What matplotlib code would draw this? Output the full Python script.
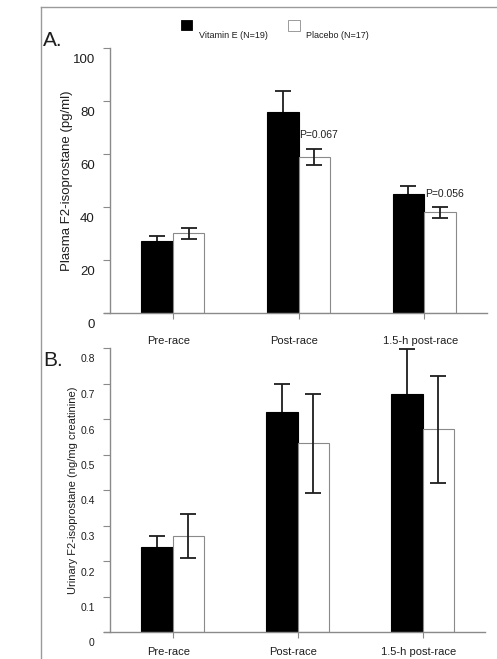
import matplotlib
matplotlib.use('Agg')
import matplotlib.pyplot as plt
import matplotlib.transforms as mtrans
import numpy as np

plt.rcParams['font.family'] = ['Liberation Sans', 'DejaVu Sans']

# data
groups = ['Pre-race', 'Post-race', '1.5-h post-race']
plasma_vite = [27.3, 75.8, 44.9]
plasma_vite_se = [1.9, 8.1, 3.0]
plasma_plac = [30.1, 58.9, 38.0]
plasma_plac_se = [2.0, 3.0, 2.0]
plasma_p = ['P=0.067', 'P=0.056']
plasma_p_y = [67.2, 44.9]

urine_vite = [0.239, 0.621, 0.670]
urine_vite_se = [0.031, 0.079, 0.128]
urine_plac = [0.270, 0.531, 0.571]
urine_plac_se = [0.061, 0.140, 0.150]

W, H = 497, 659
fig = plt.figure(figsize=(W / 100, H / 100), dpi=100)
fig.patch.set_facecolor('white')

def px_axes(left, top, right, bottom):
    return fig.add_axes([left / W, 1 - bottom / H, (right - left) / W, (bottom - top) / H])

axA = px_axes(110, 48, 487, 313)
axB = px_axes(110, 348, 485, 632)

x = np.arange(len(groups))
bw = 0.25
grey = '#8a8a8a'
ink = '#1e1e1e'

def style(ax, ymax, ticks, fmt, fs):
    ax.set_xlim(-0.5, 2.5)
    ax.set_ylim(0, ymax)
    for s in ['top', 'right', 'bottom']:
        ax.spines[s].set_visible(False)
    ax.spines['left'].set_color(grey)
    ax.spines['left'].set_linewidth(1.0)
    # baseline pokes out a little left of the y axis, as in the scan
    ax.plot([-0.55, 2.5], [0, 0], color=grey, lw=1.0, clip_on=False, zorder=4)
    ax.set_yticks(ticks)
    ax.set_yticklabels([fmt(t) for t in ticks], fontsize=fs, color=ink)
    ax.tick_params(axis='y', length=5, width=0.8, color=grey, pad=6)
    ax.set_xticks(x)
    ax.set_xticklabels([])
    ax.tick_params(axis='x', length=4, width=0.8, color=grey, direction='out')
    # scanned figure has tick labels sitting a bit below the tick marks
    off = mtrans.ScaledTranslation(0, -0.105, fig.dpi_scale_trans)
    for lab in ax.get_yticklabels():
        lab.set_transform(lab.get_transform() + off)

def bars(ax, v1, e1, v2, e2, cap):
    ax.bar(x - bw / 2, v1, bw, color='black', edgecolor='black', linewidth=0.8, zorder=2)
    ax.bar(x + bw / 2, v2, bw, color='white', edgecolor=grey, linewidth=0.8, zorder=2)
    ax.errorbar(x - bw / 2, v1, yerr=e1, fmt='none', ecolor=ink, elinewidth=1.3,
                capsize=cap, capthick=1.3, zorder=1)
    ax.errorbar(x + bw / 2, v2, yerr=e2, fmt='none', ecolor=ink, elinewidth=1.3,
                capsize=cap, capthick=1.3, zorder=3)

bars(axA, plasma_vite, plasma_vite_se, plasma_plac, plasma_plac_se, 5.5)
style(axA, 100, [0, 20, 40, 60, 80, 100], lambda t: '%d' % t, 9.5)
axA.set_ylabel('Plasma F2-isoprostane (pg/ml)', fontsize=9.5, color=ink)
axA.yaxis.set_label_coords(-0.097, 0.5)
for i, (txt, yy) in enumerate(zip(plasma_p, plasma_p_y)):
    axA.text(x[i + 1] + 0.005, yy, txt, fontsize=7.5, color=ink, va='center', ha='left')

bars(axB, urine_vite, urine_vite_se, urine_plac, urine_plac_se, 5.5)
style(axB, 0.8, [0, 0.1, 0.2, 0.3, 0.4, 0.5, 0.6, 0.7, 0.8],
      lambda t: '0' if t == 0 else '%.1f' % t, 7.5)
axB.set_ylabel('Urinary F2-isoprostane (ng/mg creatinine)', fontsize=8, color=ink)
axB.yaxis.set_label_coords(-0.085, 0.5)

# category labels under each panel (the lower row is cut by the page edge in the scan)
for ax, ypx in [(axA, 341), (axB, 652)]:
    for xi, g in zip(x, groups):
        xd = ax.transData.transform((xi, 0))[0] - 4
        fig.text(xd / W, 1 - ypx / H, g, fontsize=8, color=ink, ha='center', va='center')

# panel letters
fig.text(43 / W, 1 - 40 / H, 'A.', fontsize=15, color=ink, va='center', ha='left')
fig.text(43 / W, 1 - 361 / H, 'B.', fontsize=15, color=ink, va='center', ha='left')

# legend
fig.patches.append(plt.Rectangle((181 / W, 1 - 30 / H), 11 / W, 10 / H, transform=fig.transFigure,
                                 facecolor='black', edgecolor='black', lw=0.6))
fig.patches.append(plt.Rectangle((288 / W, 1 - 31 / H), 12 / W, 11 / H, transform=fig.transFigure,
                                 facecolor='white', edgecolor=grey, lw=0.6))
fig.text(199 / W, 1 - 36 / H, 'Vitamin E (N=19)', fontsize=6.5, color=ink, va='center')
fig.text(306 / W, 1 - 36 / H, 'Placebo (N=17)', fontsize=6.5, color=ink, va='center')

# scanned page frame
fig.add_artist(plt.Line2D([41 / W, 41 / W], [0, 1 - 7 / H], transform=fig.transFigure,
                          color='#9a9a9a', lw=1.0))
fig.add_artist(plt.Line2D([41 / W, 1], [1 - 7 / H, 1 - 7 / H], transform=fig.transFigure,
                          color='#9a9a9a', lw=1.0))

fig.savefig('out.png', dpi=100, facecolor='white')
